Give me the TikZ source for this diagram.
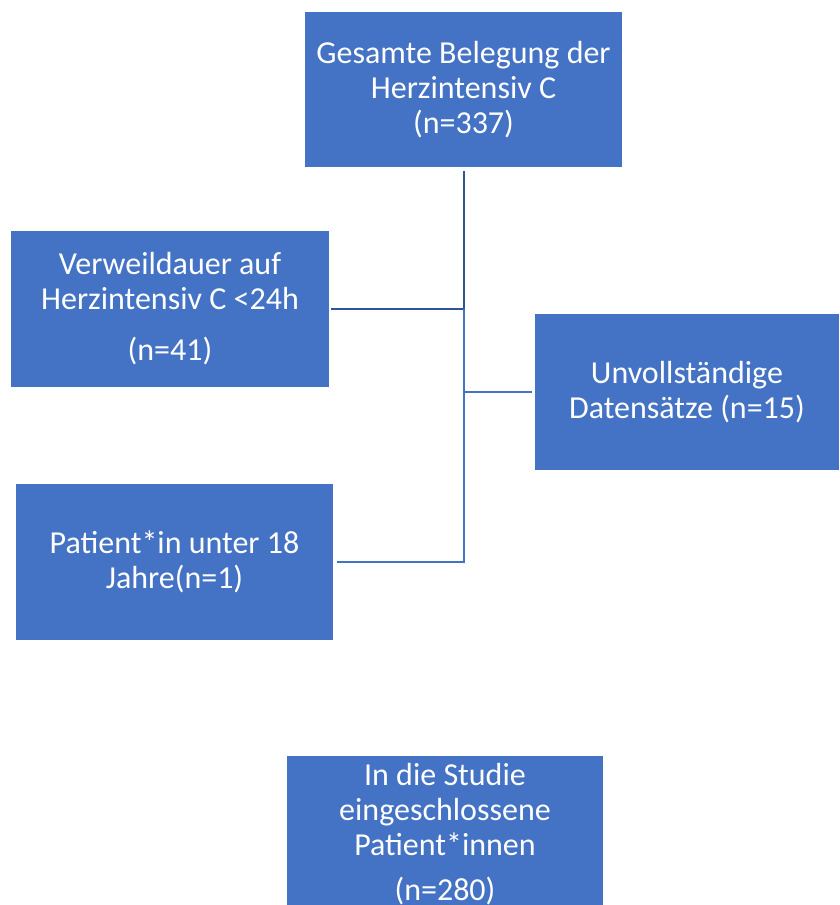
\documentclass[tikz,border=0pt]{standalone}
\usepackage{fontspec}
\setmainfont{Carlito}
\definecolor{boxblue}{HTML}{4472C4}
\definecolor{darkline}{HTML}{2F5597}
\begin{document}
\begin{tikzpicture}[x=1pt,y=-1pt,
  box/.style={draw=none,fill=boxblue,text=white,align=center,inner sep=0pt,
    font=\fontsize{32}{35}\selectfont},
  darkconn/.style={draw=darkline,line width=2.6pt},
  thinconn/.style={draw=boxblue,line width=1.4pt}]
\useasboundingbox (0,0) rectangle (839,905);
\clip (0,0) rectangle (839,905);
\fill[white] (0,0) rectangle (839,905);
\node[box,minimum width=317pt,minimum height=155pt] (top) at (463.5,89.5)
  {Gesamte Belegung der\\Herzintensiv C\\(n=337)};
\node[box,minimum width=318pt,minimum height=156pt] (left1) at (170,309)
  {Verweildauer auf\\Herzintensiv C <24h\\[16pt](n=41)};
\node[box,minimum width=304pt,minimum height=156pt] (right) at (687,392)
  {Unvollständige\\Datensätze (n=15)};
\node[box,minimum width=317pt,minimum height=156pt] (left2) at (174.5,562)
  {Patient*in unter 18\\Jahre(n=1)};
\node[box,minimum width=316pt,minimum height=156pt] (bottom) at (445,834)
  {In die Studie\\eingeschlossene\\Patient*innen\\[10pt](n=280)};
\coordinate (j1) at (464,309);
\coordinate (j2) at (464,562);
\draw[darkconn] ([yshift=-4pt]top.south -| j1) -- (j1) -- ([xshift=2pt]left1.east);
\draw[thinconn] (j1) -- (j2) -- ([xshift=4pt]left2.east);
\draw[thinconn] (j1 |- right.west) -- ([xshift=-3pt]right.west);
\end{tikzpicture}
\end{document}
